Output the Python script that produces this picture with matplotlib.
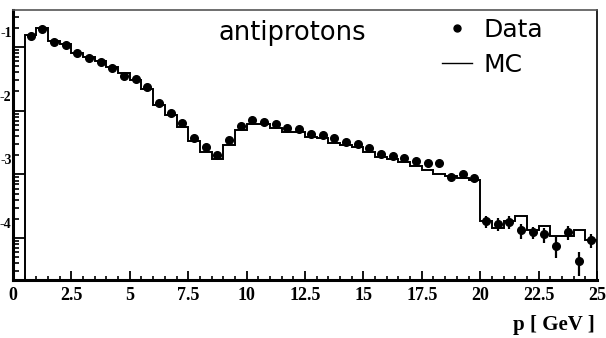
import matplotlib
matplotlib.use("Agg")
import matplotlib.pyplot as plt
import numpy as np
from matplotlib.lines import Line2D
from matplotlib.transforms import ScaledTranslation
from matplotlib.ticker import LogLocator, NullFormatter, MultipleLocator

# 0.5 GeV bins from 0.5 to 25 GeV
bin_edges = np.arange(0.5, 25.01, 0.5)
bin_centers = 0.5 * (bin_edges[:-1] + bin_edges[1:])

data = [0.1475, 0.188, 0.1175, 0.109, 0.079, 0.066, 0.0585, 0.0471, 0.0356, 0.031,
        0.0232, 0.0133, 0.0091, 0.00635, 0.0037, 0.00267, 0.00203, 0.00348, 0.0057, 0.00714,
        0.00658, 0.0062, 0.0053, 0.00512, 0.00427, 0.00417, 0.0037, 0.00327, 0.00296, 0.00258,
        0.0021, 0.00195, 0.0018, 0.0016, 0.00149, 0.0015, 0.00091, 0.00102, 0.000874, 0.000183,
        0.000167, 0.00018, 0.000132, 0.000123, 0.000114, 7.6e-5, 0.000123, 4.3e-5, 9.2e-5]

# relative statistical error of the data points
data_rel_err = [0.03] * 30 + [0.05] * 9 + [0.22, 0.22, 0.22, 0.26, 0.22, 0.26, 0.35, 0.24, 0.4, 0.24]

mc = [0.153, 0.195, 0.1245, 0.1106, 0.079, 0.070, 0.0605, 0.0489, 0.0385, 0.0302,
      0.0216, 0.0123, 0.00857, 0.00562, 0.0034, 0.00228, 0.00175, 0.0029, 0.00499, 0.00612,
      0.00612, 0.00542, 0.00469, 0.00464, 0.00392, 0.0037, 0.00316, 0.0029, 0.00267, 0.00228,
      0.00187, 0.00173, 0.00156, 0.00133, 0.00118, 0.00102, 0.00094, 0.00087, 0.000822, 0.000188,
      0.000144, 0.000188, 0.000219, 0.000136, 0.000153, 0.000107, 0.000109, 0.000136, 9.5e-5]

x_ticks = [0, 2.5, 5, 7.5, 10, 12.5, 15, 17.5, 20, 22.5, 25]
x_tick_labels = ["0", "2.5", "5", "7.5", "10", "12.5", "15", "17.5", "20", "22.5", "25"]
y_ticks = [1e-1, 1e-2, 1e-3, 1e-4]
y_tick_labels = ["-1", "-2", "-3", "-4"]

data = np.array(data)
yerr = data * np.array(data_rel_err)

fig = plt.figure(figsize=(6.06, 3.38), dpi=100)
ax = fig.add_axes([13 / 606, 1 - 280 / 338, 584 / 606, 270 / 338])

ax.stairs(mc, bin_edges, baseline=1e-8, color="black", lw=1.4, zorder=2)
ax.errorbar(bin_centers, data, yerr=yerr, fmt="o", color="black", ms=5.5,
            elinewidth=1.6, capsize=0, zorder=3)

ax.set_yscale("log")
ax.set_xlim(0, 25)
ax.set_ylim(2.2e-5, 0.38)

serif_bold = dict(family="Liberation Serif", weight="bold")

ax.set_xticks(x_ticks)
ax.set_xticklabels(x_tick_labels, fontsize=13, **serif_bold)
ax.xaxis.set_minor_locator(MultipleLocator(0.5))
ax.tick_params(axis="x", which="major", direction="in", length=6.5, width=1.3, pad=5)
ax.tick_params(axis="x", which="minor", direction="in", length=3, width=1.2)

ax.set_yticks(y_ticks)
ax.set_yticklabels(y_tick_labels, fontsize=10, **serif_bold)
ax.yaxis.set_minor_locator(LogLocator(base=10, subs=np.arange(2, 10)))
ax.yaxis.set_minor_formatter(NullFormatter())
ax.tick_params(axis="y", which="major", direction="in", length=8.5, width=1.3, pad=1)
ax.tick_params(axis="y", which="minor", direction="in", length=4, width=1.2)
for lab in ax.get_yticklabels():
    lab.set_transform(lab.get_transform() + ScaledTranslation(0, 0.15, fig.dpi_scale_trans))

ax.spines["left"].set_linewidth(2.2)
ax.spines["bottom"].set_linewidth(2.2)
ax.spines["top"].set_linewidth(1.2)
ax.spines["top"].set_color("#555555")
ax.spines["right"].set_linewidth(1.2)

ax.set_xlabel("p [ GeV ]", fontsize=15, **serif_bold)
ax.xaxis.set_label_coords(0.997, -0.13)
ax.xaxis.label.set_horizontalalignment("right")

fig.text(218 / 606, 1 - 40 / 338, "antiprotons", fontsize=18.5, va="baseline")

handles = [Line2D([], [], marker="o", ls="none", color="black", ms=5),
           Line2D([], [], color="black", lw=1.0)]
ax.legend(handles, ["Data", "MC"], frameon=False, fontsize=18, loc="upper left",
          bbox_to_anchor=(442 / 606, 1 - 18 / 338), bbox_transform=fig.transFigure,
          handlelength=1.2, handletextpad=0.45, labelspacing=0.42,
          borderpad=0, borderaxespad=0)

fig.savefig("out.png", dpi=100)
